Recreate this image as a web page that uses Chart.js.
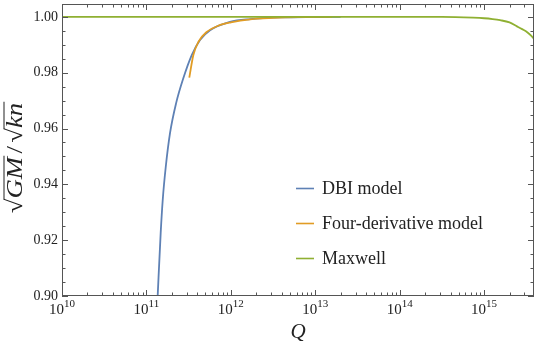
<!DOCTYPE html>
<html>
<head>
<meta charset="utf-8">
<script src="https://cdn.jsdelivr.net/npm/chart.js@4.4.0/dist/chart.umd.min.js"></script>
<style>
  html, body { margin: 0; padding: 0; background: #fff; }
</style>
</head>
<body>
<canvas id="grafico" width="540" height="350"></canvas>
<script>
// valores (Q em escala log)
const dbiQ   = [1.312e11, 1.361e11, 1.476e11, 1.56e11, 1.694e11, 1.905e11, 2.244e11, 2.735e11, 3.443e11, 4.315e11, 5.675e11, 9.77e11, 1.698e12, 3.98e12, 1.0e13, 2.0e13];
const dbiVal = [0.890, 0.9004, 0.9226, 0.9344, 0.9462, 0.9584, 0.969, 0.978, 0.9863, 0.9917, 0.9952, 0.9982, 0.9992, 0.9998, 0.99995, 1.0];

const fourQ   = [3.22e11, 3.597e11, 4.12e11, 5.18e11, 7.08e11, 1.0e12, 1.7e12, 3.16e12, 6.3e12, 1.58e13];
const fourVal = [0.9782, 0.9863, 0.991, 0.9946, 0.9968, 0.998, 0.9991, 0.9996, 0.9999, 1.0];

const maxwellQ   = [1e10, 1e12, 1e14, 3.16e14, 7.4e14, 1.0e15, 1.26e15, 1.55e15, 2.0e15, 2.45e15, 2.82e15, 3.24e15, 3.63e15, 3.98e15];
const maxwellVal = [1.0, 1.0, 1.0, 0.99998, 0.9997, 0.9995, 0.9992, 0.9988, 0.998, 0.9966, 0.9956, 0.9945, 0.9932, 0.9918];

const seriesNames  = ["DBI model", "Four-derivative model", "Maxwell"];
const seriesColors = ["#5e81b5", "#e19c24", "#8fb032"];

const xTicks = [1e10, 1e11, 1e12, 1e13, 1e14, 1e15];
const yTicks = [0.90, 0.92, 0.94, 0.96, 0.98, 1.00];

const serif = '"Liberation Serif", "Times New Roman", serif';
const axisColor = "#555";
const textColor = "#222";

function pts(xs, ys) {
    return xs.map((x, i) => ({ x: x, y: ys[i] }));
}

// moldura, ticks para dentro, rotulos dos eixos e legenda
const extras = {
    id: "extras",
    afterDraw(chart) {
        const ctx = chart.ctx;
        const a = chart.chartArea;
        const xs = chart.scales.x, ys = chart.scales.y;
        ctx.save();
        ctx.strokeStyle = axisColor;
        ctx.lineWidth = 1;
        ctx.strokeRect(a.left + 0.5, a.top + 0.5, a.right - a.left - 1, a.bottom - a.top - 1);

        function tickX(v, len) {
            const p = Math.round(xs.getPixelForValue(v)) + 0.5;
            ctx.beginPath();
            ctx.moveTo(p, a.bottom); ctx.lineTo(p, a.bottom - len);
            ctx.moveTo(p, a.top); ctx.lineTo(p, a.top + len);
            ctx.stroke();
        }
        function tickY(v, len) {
            const p = Math.round(ys.getPixelForValue(v)) + 0.5;
            ctx.beginPath();
            ctx.moveTo(a.left, p); ctx.lineTo(a.left + len, p);
            ctx.moveTo(a.right, p); ctx.lineTo(a.right - len, p);
            ctx.stroke();
        }
        for (let n = 10; n <= 15; n++) {
            tickX(Math.pow(10, n), 6);
            for (let m = 2; m <= 9; m++) {
                const v = m * Math.pow(10, n);
                if (v < xs.max) tickX(v, 3.5);
            }
        }
        for (let k = 0; k <= 21; k++) {
            const v = 0.90 + k * 0.005;
            if (v > ys.max) break;
            tickY(v, k % 4 === 0 ? 6 : 3.5);
        }

        // rotulos do eixo x: 10 com expoente
        ctx.fillStyle = textColor;
        ctx.textBaseline = "alphabetic";
        xTicks.forEach(v => {
            const px = xs.getPixelForValue(v);
            const e = String(Math.round(Math.log10(v)));
            ctx.font = "15px " + serif;
            const w1 = ctx.measureText("10").width;
            ctx.font = "11px " + serif;
            const w2 = ctx.measureText(e).width;
            const x0 = px - (w1 + w2) / 2;
            ctx.textAlign = "left";
            ctx.font = "15px " + serif;
            ctx.fillText("10", x0, 314);
            ctx.font = "11px " + serif;
            ctx.fillText(e, x0 + w1, 307);
        });

        // titulo do eixo x
        ctx.font = "italic 21px " + serif;
        ctx.textAlign = "center";
        ctx.fillText("Q", (a.left + a.right) / 2, 338);

        // titulo do eixo y: sqrt(GM)/sqrt(kn)
        ctx.save();
        ctx.translate(22, 158);
        ctx.rotate(-Math.PI / 2);
        ctx.scale(1.16, 1);
        const up = "23px " + serif, it = "italic 23px " + serif;
        const parts = [["\u221a", up, 0], ["GM", it, 3], ["/", up, 3], ["\u221a", up, 0], ["kn", it, 0]];
        let w = 0;
        parts.forEach(p => { ctx.font = p[1]; p.push(ctx.measureText(p[0]).width); w += p[3] + p[2]; });
        let x = -w / 2;
        const base = 0;
        ctx.textAlign = "left";
        ctx.strokeStyle = textColor;
        ctx.lineWidth = 1;
        parts.forEach((p, i) => {
            ctx.font = p[1];
            ctx.fillText(p[0], x, base);
            if (i === 1 || i === 4) {
                ctx.beginPath();
                ctx.moveTo(x - 1, base - 18);
                ctx.lineTo(x + p[3] + 1, base - 18);
                ctx.stroke();
            }
            x += p[3] + p[2];
        });
        ctx.restore();

        // legenda
        const rows = [188.5, 223.5, 258.5];
        ctx.font = "18px " + serif;
        ctx.textAlign = "left";
        ctx.textBaseline = "middle";
        chart.data.datasets.forEach((ds, i) => {
            ctx.strokeStyle = ds.borderColor;
            ctx.lineWidth = 1.6;
            ctx.beginPath();
            ctx.moveTo(296, rows[i]);
            ctx.lineTo(314, rows[i]);
            ctx.stroke();
            ctx.fillStyle = textColor;
            ctx.fillText(ds.label, 322, rows[i] + 1);
        });
        ctx.restore();
    }
};

const ctx = document.getElementById("grafico");
new Chart(ctx, {
    type: "line",
    data: {
        datasets: [
            { label: seriesNames[0], data: pts(dbiQ, dbiVal), borderColor: seriesColors[0], order: 3 },
            { label: seriesNames[1], data: pts(fourQ, fourVal), borderColor: seriesColors[1], order: 2 },
            { label: seriesNames[2], data: pts(maxwellQ, maxwellVal), borderColor: seriesColors[2], order: 1 }
        ]
    },
    options: {
        responsive: false,
        animation: false,
        layout: { padding: { top: 4, right: 6, left: 0, bottom: 0 } },
        elements: {
            point: { radius: 0 },
            line: { borderWidth: 1.8, cubicInterpolationMode: "monotone", fill: false }
        },
        plugins: { legend: { display: false }, tooltip: { enabled: false } },
        scales: {
            x: {
                type: "logarithmic",
                min: 1e10,
                max: 3.9e15,
                afterBuildTicks: s => { s.ticks = xTicks.map(v => ({ value: v })); },
                afterFit: s => { s.height = 54; s.paddingLeft = 0; s.paddingRight = 0; },
                grid: { display: false, drawTicks: false },
                border: { display: false },
                ticks: { display: false }
            },
            y: {
                type: "linear",
                min: 0.90,
                max: 1.0046,
                afterBuildTicks: s => { s.ticks = yTicks.map(v => ({ value: v })); },
                afterFit: s => { s.width = 62; s.paddingTop = 0; s.paddingBottom = 0; },
                grid: { display: false, drawTicks: false },
                border: { display: false },
                ticks: {
                    padding: 4,
                    color: textColor,
                    font: { family: serif, size: 14 },
                    callback: v => v.toFixed(2)
                }
            }
        }
    },
    plugins: [extras]
});
</script>
</body>
</html>
